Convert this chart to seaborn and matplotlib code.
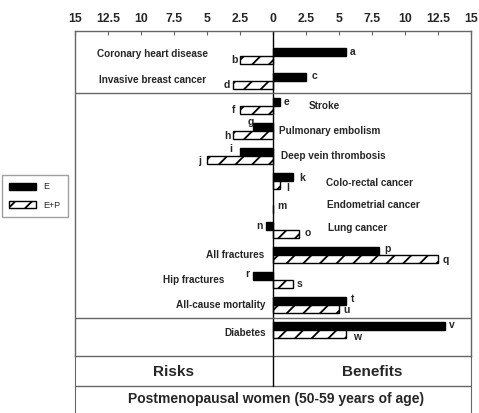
import numpy as np
import pandas as pd
import matplotlib
matplotlib.use("Agg")
import matplotlib.pyplot as plt
import seaborn as sns
from matplotlib.patches import Patch

# Data
outcomes = ["Coronary heart disease", "Invasive breast cancer", "Stroke",
            "Pulmonary embolism", "Deep vein thrombosis", "Colo-rectal cancer",
            "Endometrial cancer", "Lung cancer", "All fractures", "Hip fractures",
            "All-cause mortality", "Diabetes"]
e_values = [5.5, 2.5, 0.5, -1.5, -2.5, 1.5, np.nan, -0.5, 8, -1.5, 5.5, 13]
ep_values = [-2.5, -3, -2.5, -3, -5, 0.5, 0, 2, 12.5, 1.5, 5, 5.5]
e_letters = ["a", "c", "e", "g", "i", "k", None, "n", "p", "r", "t", "v"]
ep_letters = ["b", "d", "f", "h", "j", "l", "m", "o", "q", "s", "u", "w"]
tick_values = [-15, -12.5, -10, -7.5, -5, -2.5, 0, 2.5, 5, 7.5, 10, 12.5, 15]
tick_labels = ["15", "12.5", "10", "7.5", "5", "2.5", "0", "2.5", "5", "7.5", "10", "12.5", "15"]

# Layout of outcome labels (x in data units, alignment, y nudge in rows)
label_x = [-9.1, -9.1, 2.7, 0.45, 0.6, 4.0, 4.1, 4.2, -0.7, -3.7, -0.6, -0.5]
label_ha = ["center", "center", "left", "left", "left", "left", "left", "left",
            "right", "right", "right", "right"]
label_dy = [-0.08, -0.04, 0, 0, 0, 0.08, 0, -0.08, 0, 0, 0, 0.12]
# letter offsets in pixels (dx, dy-down)
e_off = [(7.5, 0), (9, -1), (7, 0), (-2, -5), (-9, -3), (9, 1), None,
         (-7, 0), (9, -2), (-6, -2), (7, -2), (7, -1)]
ep_off = [(-6, 0), (-7, 0), (-6, 0), (-6, 1), (-7, 1), (8, 3), (9, -3.5),
          (8, -1), (8, 1), (7, 0), (8, 1), (11, 3)]

df = pd.DataFrame({
    "outcome": outcomes * 2,
    "regimen": ["E"] * len(outcomes) + ["E+P"] * len(outcomes),
    "value": e_values + ep_values,
})

sns.set_style("white")
plt.rcParams["font.family"] = ["Liberation Sans", "DejaVu Sans"]
plt.rcParams["font.weight"] = "bold"
plt.rcParams["hatch.linewidth"] = 1.3

W, H = 479, 413
fig = plt.figure(figsize=(W / 100, H / 100), dpi=100)
ax = fig.add_axes([75 / W, (H - 356) / H, 396 / W, 325 / H])

sns.barplot(data=df, y="outcome", x="value", hue="regimen", order=outcomes,
            hue_order=["E", "E+P"], palette={"E": "black", "E+P": "white"},
            width=0.64, orient="h", edgecolor="black", linewidth=1,
            legend=False, ax=ax)

for p in ax.patches:
    if p.get_facecolor()[0] > 0.5:
        p.set_hatch("//")

ax.set_xlim(-15, 15)
ax.set_ylim(len(outcomes) + 0.04, -1)
ax.set_xlabel("")
ax.set_ylabel("")
ax.set_yticks([])
ax.xaxis.tick_top()
ax.set_xticks(tick_values)
ax.set_xticklabels(tick_labels, fontsize=8.8, fontweight="bold")
ax.tick_params(axis="x", direction="in", length=3, pad=4.3, color="#666666")
for s in ax.spines.values():
    s.set_color("#666666")
    s.set_linewidth(1)

ax.axvline(0, color="black", lw=1)
ax.axhline(1.5, color="#666666", lw=1)
ax.axhline(10.5, color="#666666", lw=1)

for i, name in enumerate(outcomes):
    ax.text(label_x[i], i + label_dy[i], name, ha=label_ha[i], va="center",
            fontsize=7.2, fontweight="bold")

for vals, letters, offs, shift in [(e_values, e_letters, e_off, -0.16),
                                   (ep_values, ep_letters, ep_off, 0.16)]:
    for i, (v, lt, off) in enumerate(zip(vals, letters, offs)):
        if lt is None:
            continue
        ax.annotate(lt, xy=(v, i + shift), xytext=(off[0], -off[1]),
                    textcoords="offset pixels", ha="center", va="center",
                    fontsize=7.5, fontweight="bold")

# bottom panel: Risks / Benefits and subtitle
ax2 = fig.add_axes([75 / W, 0, 396 / W, 57 / H])
ax2.set_xlim(-15, 15)
ax2.set_ylim(0, 57)
ax2.set_xticks([])
ax2.set_yticks([])
ax2.patch.set_alpha(0)
ax2.spines["top"].set_visible(False)
ax2.spines["bottom"].set_visible(False)
for s in ["left", "right"]:
    ax2.spines[s].set_color("#666666")
ax2.axhline(27, color="#666666", lw=1)
ax2.plot([0, 0], [27, 57], color="black", lw=1)
ax2.text(-7.5, 41, "Risks", ha="center", va="center", fontsize=11, fontweight="bold")
ax2.text(7.5, 41, "Benefits", ha="center", va="center", fontsize=11, fontweight="bold")
ax2.text(0.2, 14, "Postmenopausal women (50-59 years of age)", ha="center",
         va="center", fontsize=10, fontweight="bold")

handles = [Patch(facecolor="black", edgecolor="black", label="E"),
           Patch(facecolor="white", edgecolor="black", hatch="//", label="E+P")]
fig.legend(handles=handles, loc="center left", bbox_to_anchor=(2 / W, 1 - 196 / H),
           frameon=True, fancybox=False, edgecolor="#888888",
           prop={"family": "Liberation Sans", "weight": "normal", "size": 6.5},
           handlelength=3.0, handleheight=0.85, labelspacing=1.0, borderpad=0.8,
           handletextpad=0.8, borderaxespad=0)

fig.savefig("out.png", dpi=100)
